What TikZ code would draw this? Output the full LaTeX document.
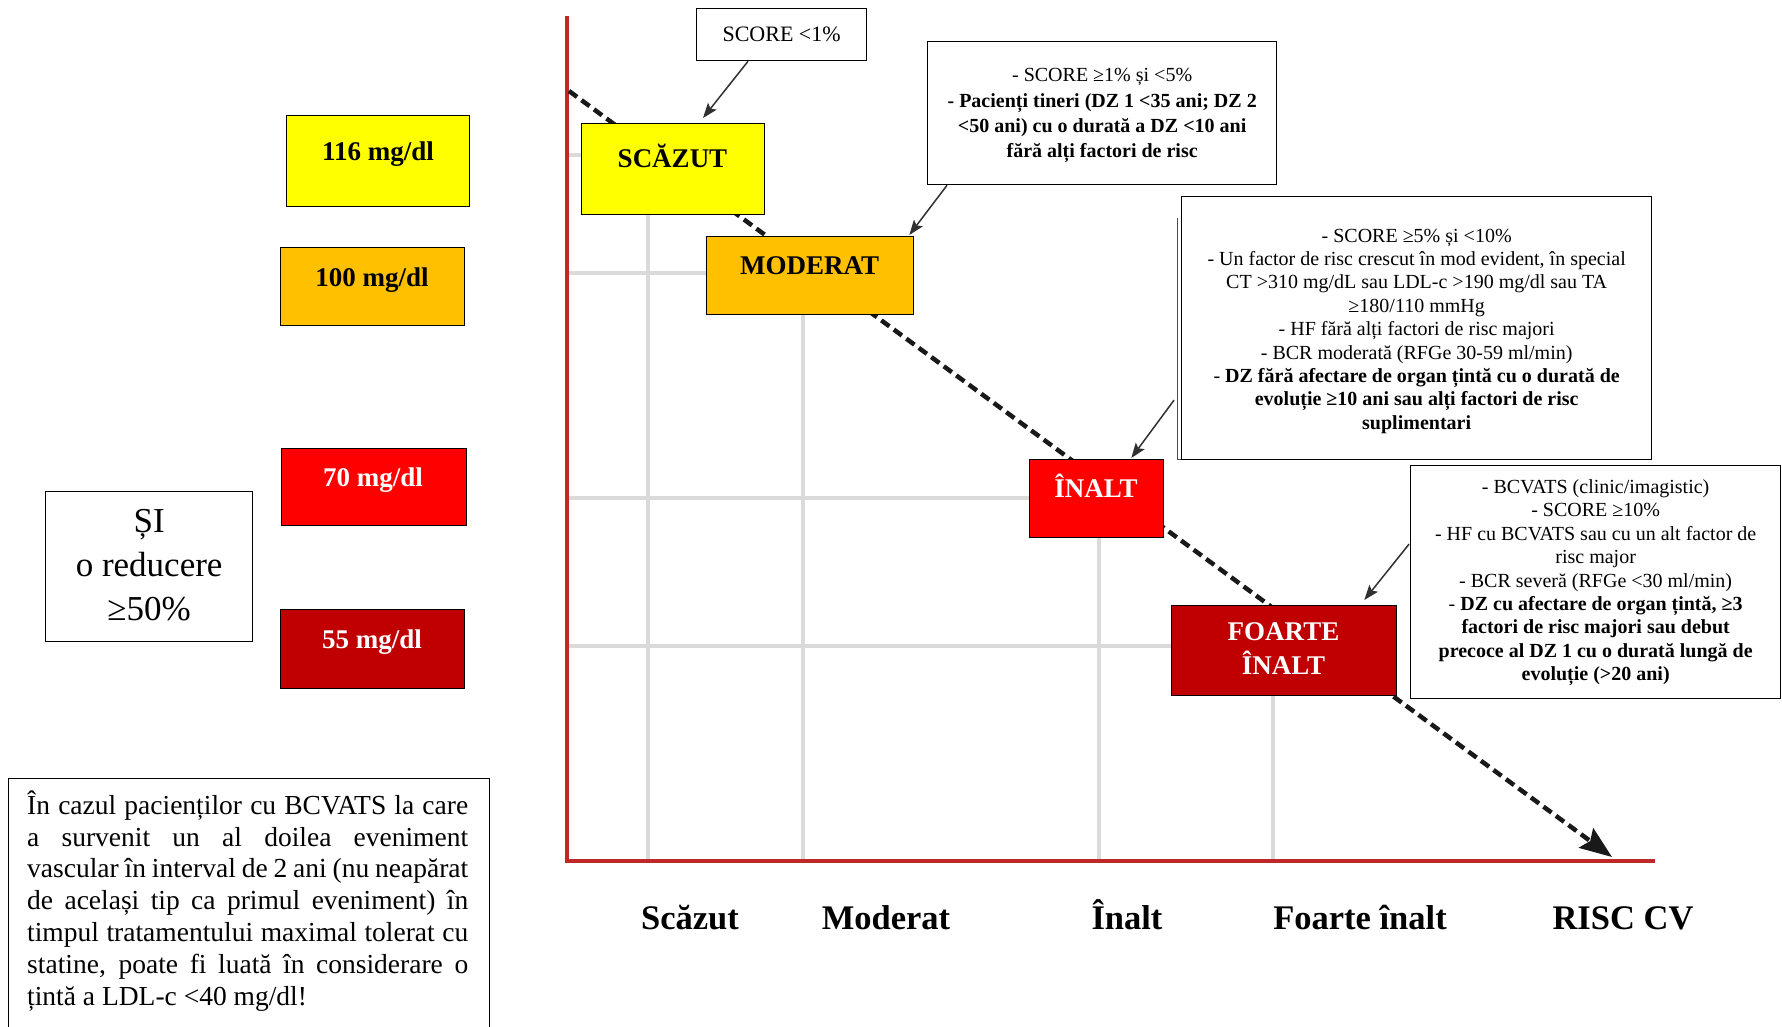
\documentclass[tikz,border=0pt]{standalone}
\usepackage{fontspec}
\setmainfont{Liberation Serif}
\usetikzlibrary{arrows.meta,calc}

\definecolor{lowrisk}{HTML}{FFFF00}
\definecolor{modrisk}{HTML}{FFC000}
\definecolor{highrisk}{HTML}{FF0000}
\definecolor{vhighrisk}{HTML}{C00000}
\definecolor{axisred}{RGB}{190,40,40}
\definecolor{gridgray}{HTML}{DADADA}
\definecolor{pointer}{HTML}{303030}

\begin{document}
\begin{tikzpicture}[x=1pt,y=-1pt,
  boxsize/.style 2 args={minimum width=#1pt, minimum height=#2pt},
  riskbox/.style={draw=black, line width=1.3pt, inner sep=0pt, anchor=north west},
  frame/.style={draw=black, line width=1.3pt, fill=white, inner sep=0pt, anchor=north west, align=center},
  boxlabel/.style={font=\fontsize{27}{34}\selectfont\bfseries, anchor=base, align=center, inner sep=0pt},
  axislabel/.style={font=\fontsize{34.5}{40}\selectfont\bfseries, anchor=base, inner sep=0pt},
  smalltext/.style={font=\fontsize{20}{23.4}\selectfont, align=center, inner sep=0pt},
  gridline/.style={draw=gridgray, line width=3.5pt},
  callout/.style={draw=pointer, line width=1.5pt, -{Stealth[length=15pt,width=11pt,inset=3pt]}},
  trend/.style={draw=black!90, line width=4.5pt, dash pattern=on 10pt off 5.5pt,
    -{Stealth[length=32pt,width=24pt,inset=5pt]}},
]
\useasboundingbox (0,0) rectangle (1782,1026);
\clip (0,0) rectangle (1782,1026);

% ---------- grid behind the risk boxes ----------
\draw[gridline] (567,155) -- (581,155);
\draw[gridline] (567,273) -- (706,273);
\draw[gridline] (567,498) -- (1029,498);
\draw[gridline] (567,646) -- (1171,646);
\draw[gridline] (648,861) -- (648,214);
\draw[gridline] (803,861) -- (803,314);
\draw[gridline] (1099,861) -- (1099,537);
\draw[gridline] (1273,861) -- (1273,694);

% ---------- axes ----------
\coordinate (ytop) at (567,16);
\coordinate (origin) at (567,861);
\coordinate (xend) at (1655,861);
\draw[axisred, line width=4pt] (ytop) -- (origin) -- (xend);

% ---------- dashed risk trend ----------
\coordinate (trendstart) at (569,91);
\coordinate (trendend) at (1612,857);
\draw[trend] (trendstart) -- (trendend);

% ---------- risk category boxes ----------
\node[riskbox, fill=lowrisk, boxsize={183}{91}] (scazut) at (581,123) {};
\node[riskbox, fill=modrisk, boxsize={207}{78}] (moderat) at (706,236) {};
\node[riskbox, fill=highrisk, boxsize={134}{78}] (inalt) at (1029,459) {};
\node[riskbox, fill=vhighrisk, boxsize={225}{90}] (foarte) at (1171,605) {};

\node[boxlabel] (tscazut) at (672.5,167) {SCĂZUT};
\node[boxlabel] (tmoderat) at (809.5,274) {MODERAT};
\node[boxlabel, text=white] (tinalt) at (1096,497) {ÎNALT};
\node[boxlabel, text=white, anchor=center] (tfoarte) at (1283.5,649) {FOARTE\\ÎNALT};

% ---------- LDL-c targets ----------
\node[riskbox, fill=lowrisk, boxsize={183}{91}] (l116) at (286,115) {};
\node[riskbox, fill=modrisk, boxsize={184}{78}] (l100) at (280,247) {};
\node[riskbox, fill=highrisk, boxsize={185}{77}] (l70) at (281,448) {};
\node[riskbox, fill=vhighrisk, boxsize={184}{79}] (l55) at (280,609) {};

\node[boxlabel] (t116) at (378,160) {116 mg/dl};
\node[boxlabel] (t100) at (372,286) {100 mg/dl};
\node[boxlabel, text=white] (t70) at (373,486) {70 mg/dl};
\node[boxlabel, text=white] (t55) at (372,648) {55 mg/dl};

\node[frame, boxsize={207}{150}] (si) at (45,491) {};
\node[align=center, inner sep=0pt, font=\fontsize{35}{44}\selectfont] (sitext)
  at ($(si.center)+(0,-2)$) {ȘI\\o reducere\\≥50\%};

% ---------- note ----------
\node[frame, boxsize={481}{300}] (noteframe) at (8,778) {};
\node[anchor=north west, inner sep=0pt, text width=441pt, align=justify,
  font=\fontsize{27.5}{31.8}\selectfont] (note) at (27,790.5)
  {În cazul pacienților cu BCVATS la care\linebreak
   a survenit un al doilea eveniment\linebreak
   vascular în interval de 2 ani (nu neapărat\linebreak
   de același tip ca primul eveniment) în\linebreak
   timpul tratamentului maximal tolerat cu\linebreak
   statine, poate fi luată în considerare o\linebreak
   țintă a LDL-c <40 mg/dl!};

% ---------- criteria boxes ----------
\node[frame, boxsize={170}{52}, font=\fontsize{22}{25}\selectfont] (score1) at (696,8) {SCORE <1\%};

\node[frame, boxsize={349}{143}] (crit2) at (927,41) {};
\node[smalltext, font=\fontsize{20}{25.3}\selectfont] (crit2text) at ($(crit2.center)+(0,2.5)$)
  {- SCORE ≥1\% și <5\%\\
   \textbf{- Pacienți tineri (DZ 1 <35 ani; DZ 2}\\
   \textbf{<50 ani) cu o durată a DZ <10 ani}\\
   \textbf{fără alți factori de risc}};

\draw[draw=black!70, line width=1pt] (1177,218) -- (1177,459) -- (1181,459);
\node[frame, boxsize={470}{263}] (crit3) at (1181,196) {};
\node[smalltext] (crit3text) at ($(crit3.center)+(0,3)$)
  {- SCORE ≥5\% și <10\%\\
   - Un factor de risc crescut în mod evident, în special\\
   CT >310 mg/dL sau LDL-c >190 mg/dl sau TA\\
   ≥180/110 mmHg\\
   - HF fără alți factori de risc majori\\
   - BCR moderată (RFGe 30-59 ml/min)\\
   - \textbf{DZ fără afectare de organ țintă cu o durată de}\\
   \textbf{evoluție ≥10 ani sau alți factori de risc}\\
   \textbf{suplimentari}};

\node[frame, boxsize={370}{233}] (crit4) at (1410,465) {};
\node[smalltext] (crit4text) at ($(crit4.center)+(0,0.5)$)
  {- BCVATS (clinic/imagistic)\\
   - SCORE ≥10\%\\
   - HF cu BCVATS sau cu un alt factor de\\
   risc major\\
   - BCR severă (RFGe <30 ml/min)\\
   - \textbf{DZ cu afectare de organ țintă, ≥3}\\
   \textbf{factori de risc majori sau debut}\\
   \textbf{precoce al DZ 1 cu o durată lungă de}\\
   \textbf{evoluție (>20 ani)}};

% ---------- pointers from criteria to categories ----------
\draw[callout] ($(score1.south west)+(52,0)$) -- ($(scazut.north west)+(122,-5)$);
\draw[callout] ($(crit2.south west)+(20,0)$) -- ($(moderat.north east)+(-5,-1)$);
\draw[callout] ($(crit3.west)+(-7,72)$) -- ($(inalt.north east)+(-33,-1)$);
\draw[callout] ($(crit4.west)+(-1,-38)$) -- ($(foarte.north east)+(-33,-5)$);

% ---------- axis labels ----------
\node[axislabel] (xscazut) at (690,929) {Scăzut};
\node[axislabel] (xmoderat) at (886,929) {Moderat};
\node[axislabel] (xinalt) at (1127,929) {Înalt};
\node[axislabel] (xfoarte) at (1360,929) {Foarte înalt};
\node[axislabel] (xrisc) at (1623,929) {RISC CV};
\end{tikzpicture}
\end{document}
